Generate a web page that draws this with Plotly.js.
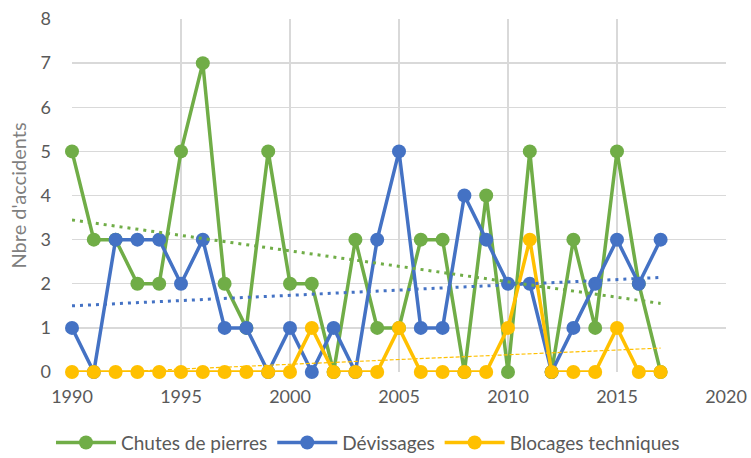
<!DOCTYPE html>
<html>
<head>
<meta charset="utf-8">
<script src="https://cdn.plot.ly/plotly-3.0.1.min.js"></script>
<style>html,body{margin:0;padding:0;background:#fff;}#chart{width:751px;height:458px;}</style>
</head>
<body>
<div id="chart"></div>
<script>
var years = [1990,1991,1992,1993,1994,1995,1996,1997,1998,1999,2000,2001,2002,2003,2004,2005,2006,2007,2008,2009,2010,2011,2012,2013,2014,2015,2016,2017];
var chutes = [5,3,3,2,2,5,7,2,1,5,2,2,0,3,1,1,3,3,0,4,0,5,0,3,1,5,2,0];
var devissages = [1,0,3,3,3,2,3,1,1,0,1,0,1,0,3,5,1,1,4,3,2,2,0,1,2,3,2,3];
var blocages = [0,0,0,0,0,0,0,0,0,0,0,1,0,0,0,1,0,0,0,0,1,3,0,0,0,1,0,0];
var seriesNames = ["Chutes de pierres","Dévissages","Blocages techniques"];
var colors = ["#70AD47","#4472C4","#FFC000"];
var xTicks = [1990,1995,2000,2005,2010,2015,2020];
var yTicks = [0,1,2,3,4,5,6,7,8];

function linfit(x, y){
  var n = x.length, sx=0, sy=0, sxx=0, sxy=0;
  for (var i=0;i<n;i++){sx+=x[i];sy+=y[i];sxx+=x[i]*x[i];sxy+=x[i]*y[i];}
  var b = (n*sxy - sx*sy)/(n*sxx - sx*sx);
  var a = (sy - b*sx)/n;
  var x0 = x[0], x1 = x[n-1];
  return {x:[x0,x1], y:[a+b*x0, a+b*x1]};
}

var data = [chutes, devissages, blocages];
var traces = [];
for (var k=0;k<3;k++){
  traces.push({
    x: years, y: data[k], name: seriesNames[k], type:'scatter', mode:'lines+markers',
    line:{color:colors[k], width:3.5},
    marker:{color:colors[k], size:14},
    cliponaxis:false
  });
}
var trendStyles = [
  {width:3, dash:'3px,5px'},
  {width:3, dash:'3px,5px'},
  {width:1.2, dash:'4px,2px'}
];
for (var k=0;k<3;k++){
  var f = linfit(years, data[k]);
  traces.push({
    x:f.x, y:f.y, type:'scatter', mode:'lines', showlegend:false, hoverinfo:'skip',
    line:{color:colors[k], width:trendStyles[k].width, dash:trendStyles[k].dash}
  });
}

var font = "Lato, 'Open Sans', sans-serif";
var layout = {
  width:751, height:458,
  margin:{l:72, r:25, t:19, b:86, autoexpand:false},
  paper_bgcolor:'#fff', plot_bgcolor:'#fff',
  font:{family:font, color:'#595959', size:18},
  showlegend:true,
  legend:{orientation:'h', xref:'container', yref:'container', x:0.49, xanchor:'center', y:0.075, yanchor:'top',
    font:{size:19, color:'#595959'}, itemwidth:60},
  xaxis:{range:[1990,2020], tickvals:xTicks, ticktext:xTicks.map(String), showgrid:true, gridcolor:'#D9D9D9', gridwidth:1.3,
    zeroline:false, showline:false, ticks:'', tickfont:{size:18, color:'#595959'}, ticklabelstandoff:12, fixedrange:true},
  yaxis:{range:[0,8], tickvals:yTicks, ticktext:yTicks.map(String), showgrid:true, gridcolor:'#D9D9D9', gridwidth:1.3,
    zeroline:false, showline:false, ticks:'', tickfont:{size:18, color:'#595959'}, ticklabelstandoff:20,
    title:{text:"Nbre d'accidents", font:{size:20, color:'#7F7F7F'}, standoff:8}}
};
Plotly.newPlot('chart', traces, layout, {displayModeBar:false, staticPlot:true});
</script>
</body>
</html>
